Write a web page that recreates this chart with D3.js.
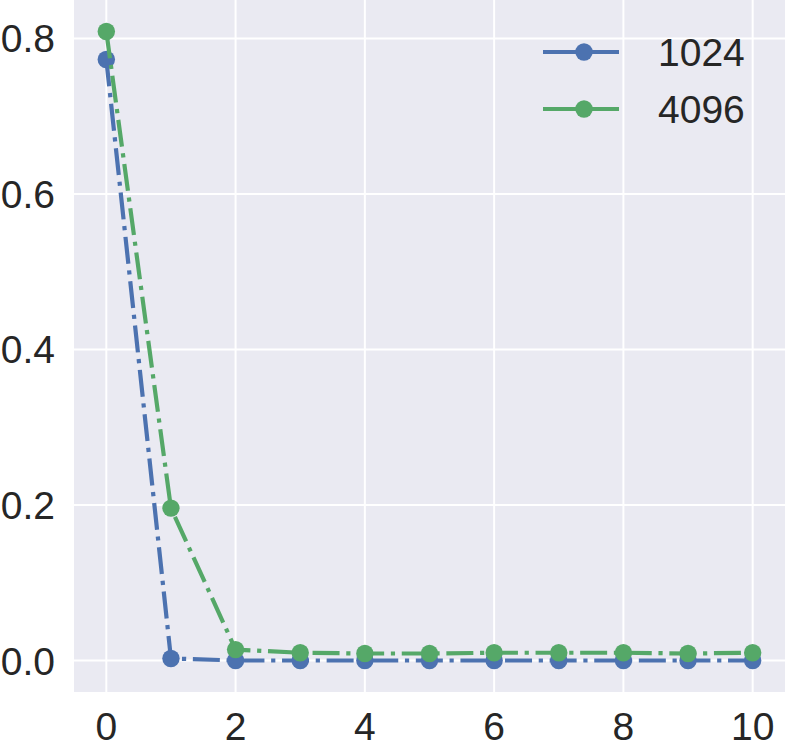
<!DOCTYPE html>
<html>
<head>
<meta charset="utf-8">
<script src="https://cdn.jsdelivr.net/npm/d3@7"></script>
<style>
  body { margin: 0; background: #fff; }
  text { font-family: "Liberation Sans", Arial, sans-serif; fill: #262626; }
</style>
</head>
<body>
<svg width="785" height="748"></svg>
<script>
(function () {

  // step index on the x axis
  var steps = [0, 1, 2, 3, 4, 5, 6, 7, 8, 9, 10]

  // one series per size
  var values1024 = [0.773, 0.0026, 0.0, 0.0, 0.0, 0.0, 0.0, 0.0, 0.0, 0.0, 0.0]
  var values4096 = [0.809, 0.196, 0.014, 0.010, 0.009, 0.009, 0.010, 0.010, 0.010, 0.009, 0.010]

  var seriesNames = ['1024', '4096']
  var seriesColors = ['#4C72B0', '#55A868']

  var xTicks = [0, 2, 4, 6, 8, 10]
  var yTicks = [0.0, 0.2, 0.4, 0.6, 0.8]

  var left = 74, right = 785, top = 0, bottom = 692

  var xScale = d3.scaleLinear().domain([-0.5, 10.5]).range([left, right])
  var yScale = d3.scaleLinear().domain([-0.0405, 0.8495]).range([bottom, top])

  var svg = d3.select('svg')

  svg.append('rect')
    .attr('x', left).attr('y', top)
    .attr('width', right - left).attr('height', bottom - top)
    .attr('fill', '#EAEAF2')

  // grid
  svg.append('g').selectAll('line')
    .data(xTicks)
    .enter().append('line')
    .attr('x1', d => xScale(d)).attr('x2', d => xScale(d))
    .attr('y1', top).attr('y2', bottom)
    .attr('stroke', 'white').attr('stroke-width', 2)

  svg.append('g').selectAll('line')
    .data(yTicks)
    .enter().append('line')
    .attr('x1', left).attr('x2', right)
    .attr('y1', d => yScale(d)).attr('y2', d => yScale(d))
    .attr('stroke', 'white').attr('stroke-width', 2)

  // tick labels
  svg.append('g').selectAll('text')
    .data(xTicks)
    .enter().append('text')
    .attr('x', d => xScale(d))
    .attr('y', 740)
    .attr('text-anchor', 'middle')
    .attr('font-size', 39)
    .text(d => d)

  svg.append('g').selectAll('text')
    .data(yTicks)
    .enter().append('text')
    .attr('x', 55)
    .attr('y', d => yScale(d) + 14)
    .attr('text-anchor', 'end')
    .attr('font-size', 39)
    .text(d => d.toFixed(1))

  var series = [values1024, values4096]

  var line = d3.line()
    .x((d, i) => xScale(steps[i]))
    .y(d => yScale(d))

  series.forEach(function (vals, k) {
    var g = svg.append('g')
    g.append('path')
      .datum(vals)
      .attr('d', line)
      .attr('fill', 'none')
      .attr('stroke', seriesColors[k])
      .attr('stroke-width', 4.2)
      .attr('stroke-dasharray', '27,6.7,4.2,6.7')

    g.selectAll('circle')
      .data(vals)
      .enter().append('circle')
      .attr('cx', (d, i) => xScale(steps[i]))
      .attr('cy', d => yScale(d))
      .attr('r', 8.7)
      .attr('fill', seriesColors[k])
  })

  // legend
  var legend = svg.append('g')
  seriesNames.forEach(function (name, k) {
    var y = 52 + k * 57
    legend.append('line')
      .attr('x1', 543).attr('x2', 619)
      .attr('y1', y).attr('y2', y)
      .attr('stroke', seriesColors[k]).attr('stroke-width', 4.2)
    legend.append('circle')
      .attr('cx', 584).attr('cy', y).attr('r', 8.7)
      .attr('fill', seriesColors[k])
    legend.append('text')
      .attr('x', 658).attr('y', y + 14)
      .attr('font-size', 39)
      .text(name)
  })

})()
</script>
</body>
</html>
